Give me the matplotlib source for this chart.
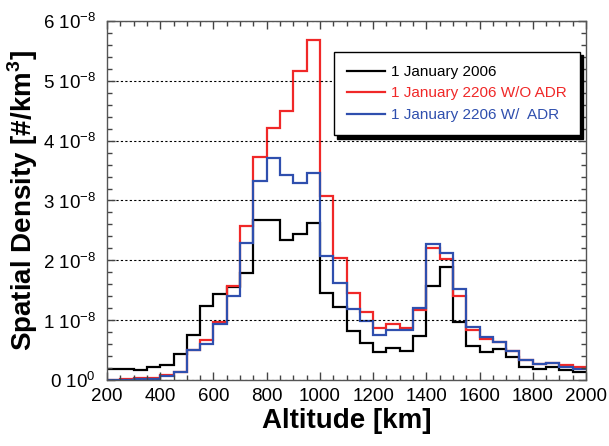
import numpy as np
import matplotlib
matplotlib.use("Agg")
import matplotlib.pyplot as plt
from matplotlib.ticker import MultipleLocator, FixedLocator, FixedFormatter

# Bin edges (km) and densities in units of 1e-8 #/km^3
edges = np.arange(200, 2001, 50)

black_2006 = [0.19, 0.19, 0.16, 0.21, 0.25, 0.44, 0.75, 1.24, 1.43, 1.55,
              1.78, 2.67, 2.68, 2.34, 2.44, 2.62, 1.46, 1.22, 0.82, 0.62,
              0.47, 0.54, 0.49, 0.74, 1.57, 1.89, 0.97, 0.56, 0.46, 0.52,
              0.38, 0.21, 0.18, 0.22, 0.16, 0.13]
red_no_adr = [0.0, 0.01, 0.03, 0.03, 0.08, 0.14, 0.50, 0.67, 0.97, 1.57,
              2.57, 3.72, 4.21, 4.50, 5.17, 5.68, 3.07, 2.04, 1.46, 1.14,
              0.87, 0.93, 0.87, 1.17, 2.21, 2.02, 1.40, 0.83, 0.69, 0.64,
              0.48, 0.34, 0.27, 0.29, 0.25, 0.21]
blue_adr = [0.0, 0.0, 0.01, 0.02, 0.07, 0.14, 0.50, 0.61, 0.93, 1.40,
            2.29, 3.33, 3.71, 3.43, 3.29, 3.46, 2.08, 1.62, 1.19, 0.99,
            0.76, 0.83, 0.83, 1.21, 2.28, 2.13, 1.52, 0.89, 0.72, 0.64,
            0.48, 0.34, 0.27, 0.29, 0.22, 0.18]

labels = ["1 January 2006", "1 January 2206 W/O ADR", "1 January 2206 W/  ADR"]
y_ticks = [0, 1, 2, 3, 4, 5, 6]
y_tick_labels = ["0 10$^{0}$"] + [f"{v} 10$^{{-8}}$" for v in y_ticks[1:]]
x_ticks = list(range(200, 2001, 200))

plt.rcParams['font.family'] = ['Liberation Sans', 'DejaVu Sans']
plt.rcParams['mathtext.fontset'] = 'custom'
plt.rcParams['mathtext.rm'] = 'Liberation Sans'
plt.rcParams['mathtext.bf'] = 'Liberation Sans:bold'

fig = plt.figure(figsize=(6.09, 4.46), dpi=100)
ax = fig.add_axes([107 / 609, 66 / 446, 479 / 609, 359 / 446])

scale = 1e-8
colors = ["black", "#f02828", "#2f4fae"]
for vals, col, lab in zip([black_2006, red_no_adr, blue_adr], colors, labels):
    ax.stairs(np.array(vals) * scale, edges, baseline=None, color=col,
              linewidth=1.6, label=lab)

ax.set_xlim(200, 2000)
ax.set_ylim(0, 6e-8)

# Ticks
ax.xaxis.set_major_locator(FixedLocator(x_ticks))
ax.xaxis.set_minor_locator(MultipleLocator(50))
ax.yaxis.set_major_locator(FixedLocator([v * scale for v in y_ticks]))
ax.yaxis.set_major_formatter(FixedFormatter(y_tick_labels))
ax.yaxis.set_minor_locator(MultipleLocator(0.2e-8))
ax.tick_params(which="both", direction="in", top=True, right=True,
               color="#444444", labelsize=13.5)
ax.tick_params(which="major", length=6, width=1)
ax.tick_params(which="minor", length=3.5, width=1)
ax.tick_params(axis="x", pad=6)
ax.tick_params(axis="y", pad=8)

for s in ax.spines.values():
    s.set_color("#555555")
    s.set_linewidth(1)

ax.yaxis.grid(True, linestyle=(0, (2, 2)), color="black", linewidth=0.8)

ax.set_xlabel("Altitude [km]", fontsize=20, fontweight="bold", labelpad=2)
ax.set_ylabel(r"Spatial Density [#/km$^\mathbf{3}$]", fontsize=20,
              fontweight="bold", labelpad=2)

leg = ax.legend(loc="upper right", bbox_to_anchor=(0.987, 0.914),
                borderaxespad=0, fontsize=11, frameon=True, fancybox=False,
                edgecolor="black", labelcolor="linecolor",
                handlelength=2.5, handletextpad=0.4, borderpad=0.85,
                labelspacing=0.5,
                shadow={"color": "black", "alpha": 1, "ox": 2.5, "oy": -2.5})
leg.get_frame().set_linewidth(1)

fig.savefig("out.png", dpi=100)
